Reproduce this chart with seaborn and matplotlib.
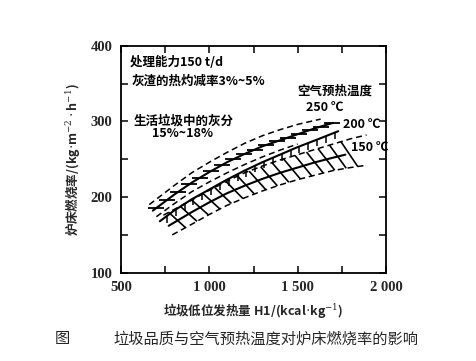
import numpy as np
import pandas as pd
import matplotlib
matplotlib.use("Agg")
import matplotlib.pyplot as plt
import seaborn as sns
from matplotlib.collections import LineCollection

# ---------------- data ----------------
# 250 °C band
xa = [680, 800, 900, 1000, 1100, 1200, 1300, 1400, 1500, 1600, 1700]
a_mid = [182, 203, 219, 233, 246, 257, 267, 275, 283, 291, 298]
xa_up = [660, 800, 900, 1000, 1100, 1200, 1300, 1400, 1500, 1630]
a_up = [190, 215, 232, 246, 259, 271, 281, 289, 296, 303]
xa_lo = [700, 800, 900, 1000, 1100, 1200, 1300, 1400, 1500]
a_lo = [174, 191, 207, 220, 232, 243, 253, 262, 270]

# 200 °C band
xb = [720, 800, 900, 1000, 1100, 1200, 1300, 1400, 1500, 1600, 1730]
b_mid = [168, 182, 197, 210, 223, 235, 246, 256, 266, 275, 287]

# 150 °C band
xc_up = [740, 900, 1000, 1100, 1200, 1300, 1400, 1500, 1600, 1700, 1800, 1890]
c_up = [176, 196, 209, 221, 232, 241, 249, 256, 263, 270, 277, 282]
xc = [770, 900, 1000, 1100, 1200, 1300, 1400, 1500, 1600, 1700, 1770]
c_mid = [162, 180, 193, 205, 215, 224, 232, 239, 246, 252, 256]
xc_lo = [790, 900, 1000, 1100, 1200, 1300, 1400, 1500, 1600, 1700, 1800, 1890]
c_lo = [150, 164, 177, 189, 199, 208, 216, 223, 229, 235, 239, 242]

x_ticks = [500, 1000, 1500, 2000]
x_tick_labels = ["500", "1 000", "1 500", "2 000"]
y_ticks = [100, 200, 300, 400]
y_tick_labels = ["100", "200", "300", "400"]

notes = ["处理能力150 t/d", "灰渣的热灼减率3%~5%", "生活垃圾中的灰分", "15%~18%"]
temp_title = "空气预热温度"
temp_labels = ["250 ℃", "200 ℃", "150 ℃"]
xlabel = r"垃圾低位发热量 H1/(kcal$\cdot$kg$^{-1}$)"
ylabel = r"炉床燃烧率/(kg$\cdot$m$^{-2}\cdot$h$^{-1}$)"
caption_head = "图"
caption = "垃圾品质与空气预热温度对炉床燃烧率的影响"

# ---------------- style ----------------
sns.set_style("ticks")
plt.rcParams["font.family"] = ["Noto Sans CJK SC", "DejaVu Sans"]
plt.rcParams["mathtext.fontset"] = "dejavuserif"

fig = plt.figure(figsize=(4.77, 3.61), dpi=100)
ax = fig.add_axes([0.2537, 0.2446, 0.8092 - 0.2537, 0.8734 - 0.2446])

K = "black"


def line(x, y, dashed=False, lw=1.5):
    sns.lineplot(x=x, y=y, ax=ax, color=K, lw=lw, sort=False, estimator=None,
                 linestyle=(0, (4, 2.5)) if dashed else "-")


# band lines
line(xa_up, a_up, dashed=True, lw=1.1)
line(xa, a_mid)
line(xa_lo, a_lo, dashed=True, lw=1.1)
line(xb, b_mid)
line(xc_up, c_up, dashed=True, lw=1.1)
line(xc, c_mid)
line(xc_lo, c_lo, dashed=True, lw=1.1)

# hatch marks derived from the band curves
segs_a = []
for xi in np.arange(700, 1700, 62):
    yi = np.interp(xi, xa, a_mid)
    segs_a.append([(xi - 45, yi), (xi + 45, yi)])
ax.add_collection(LineCollection(segs_a, colors=K, linewidths=1.3))

segs_b = []
for xi in np.arange(760, 1730, 50):
    yi = np.interp(xi, xb, b_mid)
    segs_b.append([(xi, yi), (xi, yi - 9)])
ax.add_collection(LineCollection(segs_b, colors=K, linewidths=1.1))

segs_c = []
for xi in np.arange(810, 1800, 65):
    x0, x1 = xi - 40, xi + 55
    segs_c.append([(x0, np.interp(x0, xc_up, c_up)), (x1, np.interp(x1, xc_lo, c_lo))])
ax.add_collection(LineCollection(segs_c, colors=K, linewidths=1.2))

# axes
ax.set_xlim(500, 2000)
ax.set_ylim(100, 400)
ax.set_xticks(x_ticks)
ax.set_xticklabels(x_tick_labels)
ax.set_xticks([750, 1250, 1750], minor=True)
ax.set_yticks(y_ticks)
ax.set_yticklabels(y_tick_labels)
ax.set_yticks([150, 250, 350], minor=True)
ax.tick_params(which="both", direction="in", top=True, right=True, length=5,
               width=1.1, color=K, pad=6)
for lab in ax.get_xticklabels() + ax.get_yticklabels():
    lab.set_fontfamily("Liberation Serif")
    lab.set_fontweight("bold")
    lab.set_fontsize(10.5)
for s in ax.spines.values():
    s.set_linewidth(1.3)
    s.set_color(K)

ax.set_xlabel(xlabel, fontsize=9, fontweight="bold", labelpad=5)
ax.set_ylabel(ylabel, fontsize=9, fontweight="bold", labelpad=6)

tk = dict(fontsize=9, fontweight="bold", color=K)
ax.text(551, 378, notes[0], va="center", ha="left", **tk)
ax.text(558, 353, notes[1], va="center", ha="left", **tk)
ax.text(570, 301, notes[2], va="center", ha="left", **tk)
ax.text(850, 284, notes[3], va="center", ha="center", **tk)
ax.text(1500, 340, temp_title, va="center", ha="left", **tk)
ax.text(1545, 318, temp_labels[0], va="center", ha="left", **tk)
ax.text(1755, 296, temp_labels[1], va="center", ha="left", **tk)
ax.text(1800, 265, temp_labels[2], va="center", ha="left", **tk)

fig.text(55 / 477, 1 - 339 / 361, caption_head, fontsize=11, va="center", ha="left")
fig.text(266 / 477, 1 - 339 / 361, caption, fontsize=11, va="center", ha="center")

fig.savefig("out.png", dpi=100, facecolor="white")
